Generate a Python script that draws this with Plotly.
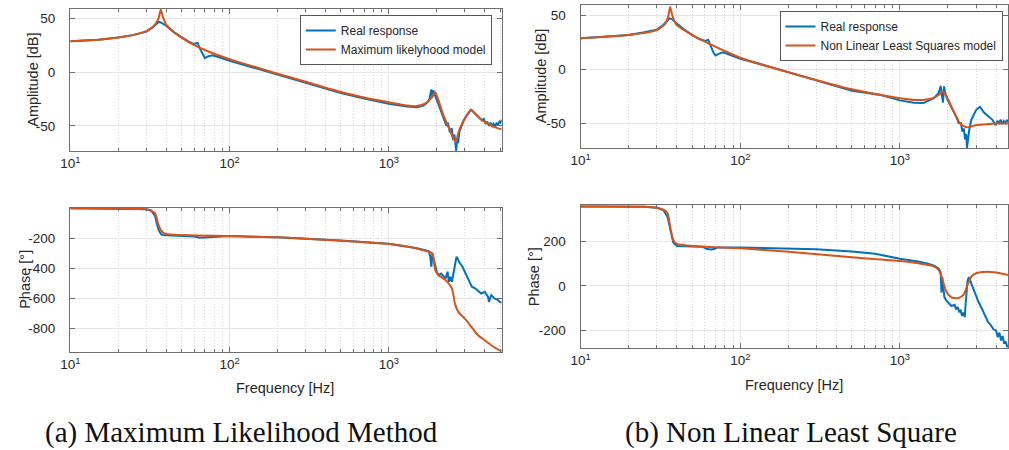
import plotly.graph_objects as go

BLUE = "#0072BD"
ORANGE = "#D95319"

# ---------------- (a) Maximum likelihood ----------------
ml_amp_real_f = [10, 15, 20, 25, 30, 33, 35, 36, 37, 38, 40, 45, 50, 55, 60, 63, 65, 68, 70, 73, 78, 85,
                 100, 150, 200, 300, 500, 700, 1000, 1300, 1500, 1650, 1750, 1800, 1830, 1850, 1870, 1900,
                 1930, 1980, 2050, 2150, 2250, 2300, 2350, 2420, 2480, 2530, 2580, 2620, 2650, 2680, 2720,
                 2780, 2850, 2950, 3050, 3150, 3280, 3400, 3550, 3700, 3850, 3950, 4050, 4150, 4250, 4350,
                 4450, 4550, 4650, 4750, 4850, 4950, 5050, 5120]
ml_amp_real_v = [28.5, 30, 32, 34.5, 37.5, 41.5, 45, 46.5, 46, 45, 43, 36.5, 32, 28.5, 26, 27, 22, 16, 13, 14.5, 15.5, 14,
                 10.5, 3, -2.5, -10, -19.5, -24.5, -29.5, -32, -32.5, -31, -28, -25, -20, -16, -24, -17,
                 -20, -25, -30, -38, -46, -50, -47, -56, -52, -63, -58, -70, -73, -62, -66,
                 -55, -50, -45, -41, -38, -35, -37, -40, -42, -45, -43, -48, -46, -50, -47,
                 -50, -48, -51, -47, -49, -46, -47, -44]

ml_amp_model_f = [10, 15, 20, 25, 30, 33, 35, 36, 36.5, 37, 38, 40, 45, 50, 60, 70, 80, 100, 150, 200, 300, 500,
                  700, 1000, 1300, 1500, 1700, 1850, 1950, 2050, 2200, 2400, 2550, 2630, 2750, 2900, 3100,
                  3280, 3500, 3800, 4200, 4600, 5120]
ml_amp_model_v = [28.5, 30, 32, 34.5, 38, 42, 47, 51, 55, 58, 52, 44, 37, 32, 25, 20.5, 17, 12, 4, -1.5, -9, -18.5,
                  -23.5, -28, -31, -31.5, -29, -24, -18.5, -26, -40, -53, -62, -65, -55, -47, -40,
                  -35, -39, -44, -48, -51, -53]

ml_ph_real_f = [10, 20, 30, 32, 34, 35, 36, 37, 38, 40, 50, 60, 65, 70, 75, 100, 200, 500, 1000, 1500, 1780,
                1820, 1850, 1880, 1920, 2000, 2050, 2130, 2270, 2340, 2380, 2430, 2490, 2540, 2600, 2660,
                2700, 2760, 2900, 3030, 3180, 3320, 3500, 3800, 4000, 4200, 4250, 4400, 4600, 4800, 4970, 5120]
ml_ph_real_v = [-2, -4, -9, -15, -50, -110, -150, -172, -180, -182, -184, -190, -198, -196, -190, -187, -194, -216,
                -238, -268, -287, -320, -391, -302, -347, -424, -447, -436, -469, -424, -491, -458, -491, -436,
                -358, -324, -335, -358, -391, -436, -491, -524, -536, -569, -558, -591, -624, -580, -602, -610,
                -624, -630]

ml_ph_model_f = [10, 20, 30, 34, 35.5, 37, 39, 42, 100, 200, 500, 1000, 1500, 1700, 1870, 1957, 2050, 2270,
                 2490, 2600, 2730, 3000, 3300, 3630, 4000, 4400, 4970, 5120]
ml_ph_model_v = [-2, -4, -9, -35, -102, -147, -169, -176, -187, -195, -218, -240, -269, -285, -300, -413, -447,
                 -480, -536, -636, -691, -736, -791, -847, -880, -913, -947, -952]

# ---------------- (b) Non linear least squares ----------------
nl_amp_real_f = [10, 15, 20, 25, 30, 33, 35, 36, 37, 38, 40, 45, 50, 55, 60, 63, 65, 68, 70, 73, 78, 85,
                 100, 150, 200, 300, 500, 760, 1000, 1220, 1400, 1630, 1750, 1800, 1830, 1860, 1890, 1920,
                 1980, 2060, 2160, 2250, 2330, 2410, 2460, 2510, 2560, 2600, 2630, 2670, 2720, 2800, 2900,
                 3000, 3100, 3170, 3250, 3350, 3500, 3650, 3800, 3900, 3980, 4080, 4180, 4280, 4380, 4480,
                 4580, 4680, 4750]
nl_amp_real_v = [28.5, 30, 31.5, 34, 36.5, 41, 45, 47, 46.5, 45, 42, 36, 31.5, 28, 26, 27, 22, 15, 12.5, 14, 15.5, 13.5,
                 9.5, 2.5, -3, -10.5, -20, -24, -29, -31.2, -31.5, -27, -22, -15.7, -24, -31, -16, -22,
                 -28, -33, -38, -44, -50, -50, -58, -55, -65, -60, -73, -62, -56, -47, -42,
                 -38, -36, -35, -37, -40, -42.6, -45, -47, -50, -52, -48, -50, -47, -51, -48,
                 -50, -47, -49]

nl_amp_model_f = [10, 20, 30, 34, 35.5, 36.3, 37, 38, 40, 50, 60, 100, 200, 500, 1000, 1300, 1600, 1750, 1840,
                  1900, 2000, 2200, 2400, 2630, 2800, 3000, 3500, 4000, 4750]
nl_amp_model_v = [28.4, 31.5, 36, 42.3, 50, 57.5, 53, 47, 40.7, 31.5, 25.3, 10.5, -3, -18.8, -27, -28.7, -27,
                  -24, -21, -22, -28, -41, -51, -54, -53, -52, -51, -50.5, -50.5]

nl_ph_real_f = [10, 25, 30, 33, 35, 36, 37, 38, 40, 50, 58, 62, 66, 70, 72, 100, 200, 300, 500, 700, 1000,
                1300, 1500, 1650, 1750, 1800, 1820, 1840, 1870, 1900, 1950, 2000, 2100, 2200, 2250, 2300,
                2350, 2400, 2450, 2500, 2550, 2580, 2620, 2650, 2700, 2750, 2800, 2900, 3000, 3100, 3250,
                3400, 3550, 3700, 3850, 4000, 4100, 4200, 4300, 4400, 4500, 4600, 4700, 4750]
nl_ph_real_v = [357, 356, 352, 340, 310, 270, 230, 195, 180, 178, 176, 166, 164, 168, 173, 173, 170, 165, 155,
                145, 122, 110, 100, 90, 78, 60, -30, 40, -10, -50, -65, -75, -90, -85, -105, -95,
                -115, -110, -135, -120, -140, -80, -30, 20, 40, 25, 10, -20, -40, -70, -100,
                -130, -160, -175, -195, -200, -230, -210, -245, -225, -260, -250, -275, -265]

nl_ph_model_f = [10, 25, 30, 33, 35, 36.5, 38, 40, 50, 100, 200, 500, 1000, 1300, 1600, 1750, 1850, 1950,
                 2100, 2300, 2500, 2650, 2800, 3000, 3500, 4000, 4750]
nl_ph_model_v = [357, 356, 352, 343, 327, 259, 207, 189, 180, 169, 154, 129, 112, 102, 90, 72, 27, -25,
                 -51, -55, -40, 4.5, 42, 57, 64, 60, 49]

# ---------------- text ----------------
legend_a = ["Real response", "Maximum likelyhood model"]
legend_b = ["Real response", "Non Linear Least Squares model"]
caption_a = "(a) Maximum Likelihood Method"
caption_b = "(b) Non Linear Least Square"
amp_ticks = [-50, 0, 50]
ph_ticks_a = [-800, -600, -400, -200]
ph_ticks_b = [-200, 0, 200]
freq_ticks = [10, 100, 1000]
freq_ticktext = ["10<sup>1</sup>", "10<sup>2</sup>", "10<sup>3</sup>"]
minor_vals = [v * m for m in (10, 100, 1000) for v in range(2, 10)]

W, H = 1009, 450


def px_x(a, b):
    return [a / W, b / W]


def px_y(top, bot):
    return [1 - bot / H, 1 - top / H]


fig = go.Figure()

specs = [
    ("x", "y", ml_amp_real_f, ml_amp_real_v, ml_amp_model_f, ml_amp_model_v, "legend", legend_a, True),
    ("x2", "y2", ml_ph_real_f, ml_ph_real_v, ml_ph_model_f, ml_ph_model_v, "legend", legend_a, False),
    ("x3", "y3", nl_amp_real_f, nl_amp_real_v, nl_amp_model_f, nl_amp_model_v, "legend2", legend_b, True),
    ("x4", "y4", nl_ph_real_f, nl_ph_real_v, nl_ph_model_f, nl_ph_model_v, "legend2", legend_b, False),
]
for xa, ya, fr, vr, fm, vm, lg, names, show in specs:
    fig.add_trace(go.Scatter(x=fr, y=vr, mode="lines", line=dict(color=BLUE, width=2),
                             name=names[0], xaxis=xa, yaxis=ya, legend=lg, showlegend=show))
    fig.add_trace(go.Scatter(x=fm, y=vm, mode="lines", line=dict(color=ORANGE, width=2, shape="spline", smoothing=0.6),
                             name=names[1], xaxis=xa, yaxis=ya, legend=lg, showlegend=show))

AXCOL = "#6e6e6e"
GRID = "#e6e6e6"
TICKFONT = dict(family="Liberation Sans, Arial, sans-serif", size=13.5, color="#262626")
NB = "\u00a0"


def xaxis(domain, rng, anchor):
    return dict(type="log", domain=domain, range=rng, anchor=anchor,
                tickvals=freq_ticks, ticktext=freq_ticktext, tickfont=TICKFONT,
                showgrid=True, gridcolor=GRID, gridwidth=1,
                ticks="inside", ticklen=5, tickcolor=AXCOL,
                showline=True, linecolor=AXCOL, linewidth=1, mirror="allticks",
                zeroline=False,
                minor=dict(tickvals=minor_vals, showgrid=True, gridcolor="#d4d4d4", griddash="1px,2px",
                           ticks="inside", ticklen=3, tickcolor=AXCOL))


def yaxis(domain, rng, anchor, tv):
    return dict(domain=domain, range=rng, anchor=anchor, tickvals=tv,
                ticktext=[str(v) + NB * 3 for v in tv], tickfont=TICKFONT,
                showgrid=True, gridcolor=GRID, gridwidth=1,
                ticks="inside", ticklen=5, tickcolor=AXCOL,
                showline=True, linecolor=AXCOL, linewidth=1, mirror="allticks",
                zeroline=False)


xr_a = [1, 3.708]
xr_b = [1, 3.677]
LEGFONT = dict(family="Liberation Sans, Arial, sans-serif", size=12, color="#262626")

fig.update_layout(
    width=W, height=H, margin=dict(l=0, r=0, t=0, b=0),
    paper_bgcolor="white", plot_bgcolor="white",
    xaxis=xaxis(px_x(61, 497), xr_a, "y"),
    yaxis=yaxis(px_y(9, 151), [-73.2, 58.5], "x", amp_ticks),
    xaxis2=xaxis(px_x(61, 497), xr_a, "y2"),
    yaxis2=yaxis(px_y(208, 352), [-958, 0], "x2", ph_ticks_a),
    xaxis3=xaxis(px_x(577, 1009), xr_b, "y3"),
    yaxis3=yaxis(px_y(5, 148), [-73.1, 59.3], "x3", amp_ticks),
    xaxis4=xaxis(px_x(577, 1009), xr_b, "y4"),
    yaxis4=yaxis(px_y(205, 348), [-279, 364], "x4", ph_ticks_b),
    legend=dict(x=293 / W, y=1 - 15 / H, xanchor="left", yanchor="top", bgcolor="white",
                bordercolor="#555", borderwidth=1, itemwidth=30, tracegroupgap=0, font=LEGFONT),
    legend2=dict(x=778 / W, y=1 - 11 / H, xanchor="left", yanchor="top", bgcolor="white",
                 bordercolor="#555", borderwidth=1, itemwidth=30, tracegroupgap=0, font=LEGFONT),
    showlegend=True,
)

LBL = dict(family="Liberation Sans, Arial, sans-serif", size=14.5, color="#262626")
annos = [
    dict(text="Amplitude [dB]", x=23, y=80, textangle=-90),
    dict(text="Phase [°]", x=15, y=279, textangle=-90),
    dict(text="Frequency [Hz]", x=278, y=388, textangle=0),
    dict(text="Amplitude [dB]", x=537, y=76, textangle=-90),
    dict(text="Phase [°]", x=530, y=277, textangle=-90),
    dict(text="Frequency [Hz]", x=793, y=385, textangle=0),
]
for a in annos:
    fig.add_annotation(text=a["text"], x=a["x"] / W, y=1 - a["y"] / H, xref="paper", yref="paper",
                       xanchor="center", yanchor="middle", textangle=a["textangle"], showarrow=False, font=LBL)

CAP = dict(family="Liberation Serif, Times New Roman, serif", size=29, color="#111")
fig.add_annotation(text=caption_a, x=234 / W, y=1 - 432 / H, xref="paper", yref="paper",
                   xanchor="center", yanchor="middle", showarrow=False, font=CAP)
fig.add_annotation(text=caption_b, x=790 / W, y=1 - 432 / H, xref="paper", yref="paper",
                   xanchor="center", yanchor="middle", showarrow=False, font=CAP)

fig.write_html("out.html")
